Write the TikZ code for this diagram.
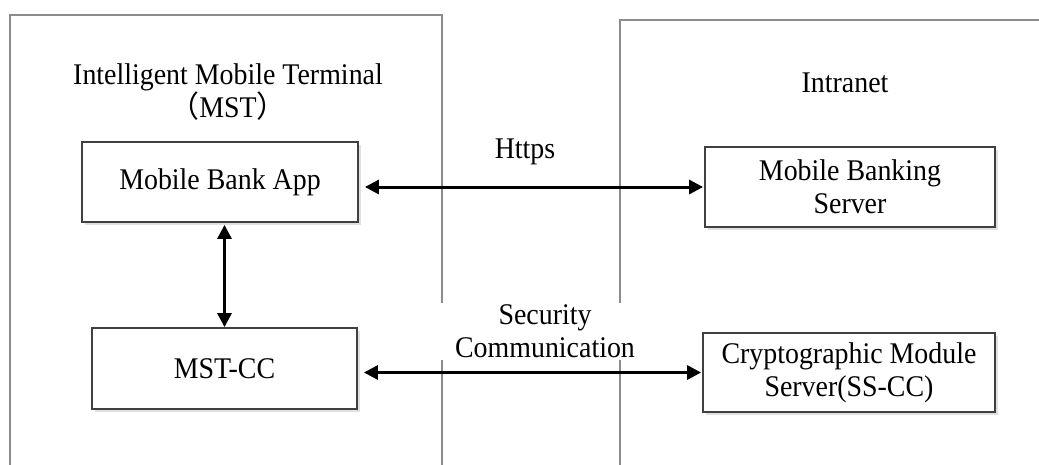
\documentclass[tikz,border=0pt]{standalone}
\usepackage{fontspec}
\setmainfont{Liberation Serif}[FakeStretch=0.93]
\newfontfamily\cjkfont{Noto Sans CJK SC}
\usetikzlibrary{arrows.meta,shadows}

\begin{document}
\begin{tikzpicture}[x=1pt,y=-1pt,
  every node/.style={font=\fontsize{30}{33}\selectfont, inner sep=0pt},
  frame/.style={draw=black!45, line width=1.3pt},
  unit/.style={draw=black!75, line width=1.8pt, fill=white,
    drop shadow={shadow xshift=2.5pt, shadow yshift=-2.5pt, fill=black!12, opacity=1}},
  link/.style={{Triangle[length=14pt,width=14pt]}-{Triangle[length=14pt,width=14pt]},
    line width=3pt, black}]
\useasboundingbox (0,0) rectangle (1039,464);

% container outlines, broken where the lower label crosses them
\draw[frame] (10,470) -- (10,15) -- (442,15) -- (442,303);
\draw[frame] (442,360) -- (442,470);
\draw[frame] (620,303) -- (620,20) -- (1045,20);
\draw[frame] (620,360) -- (620,470);

% container titles
\node[align=center] (mst) at (228,92) {Intelligent Mobile Terminal\\{\cjkfont （}MST{\cjkfont ）}};
\node (intranet) at (845,83) {Intranet};

% components
\node[unit, minimum width=276pt, minimum height=80pt] (app) at (220,182) {Mobile Bank App};
\node[unit, minimum width=265pt, minimum height=81pt] (cc) at (224.5,368.5) {MST-CC};
\node[unit, minimum width=290pt, minimum height=80pt, align=center] (mbs) at (850,187) {Mobile Banking\\Server};
\node[unit, minimum width=292pt, minimum height=79pt, align=center] (cms) at (849,372.5) {Cryptographic Module\\Server(SS-CC)};

% channel labels
\node (https) at (525,152) {Https};
\node[align=center] (sec) at (545,331) {Security\\Communication};

% channels
\draw[link, shorten <=6pt, shorten >=1pt] (mbs.west -| app.east) -- (mbs.west);
\draw[link, shorten <=6pt, shorten >=1pt] (cms.west -| cc.east) -- (cms.west);
\draw[link, shorten >=2pt] (cc.north) -- (cc.north |- app.south);
\end{tikzpicture}
\end{document}
